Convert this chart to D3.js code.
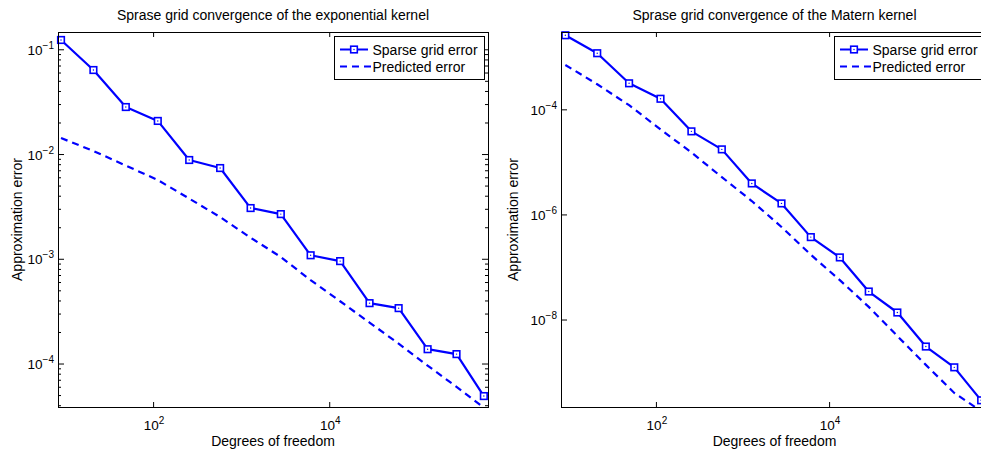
<!DOCTYPE html>
<html>
<head>
<meta charset="utf-8">
<script src="https://cdn.jsdelivr.net/npm/d3@7"></script>
<style>
  body { margin: 0; background: #fff; }
  text { font-family: "Liberation Sans", Arial, Helvetica, sans-serif; fill: #000; }
</style>
</head>
<body>
<div id="chart-area"></div>
<script>
// degrees of freedom of each sparse grid level
const dof = [9, 21, 49, 113, 257, 577, 1280, 2820, 6150, 13300, 28700, 61400, 131000, 279000, 570000]

// exponential kernel
const sparseExp = [0.1227, 0.0634, 0.0281, 0.0207, 0.00877, 0.00735, 0.00305, 0.00267, 0.00108, 9.5e-4, 3.77e-4, 3.38e-4, 1.37e-4, 1.23e-4, 4.89e-5]
const predictedExp = [0.01422, 0.01069, 0.00776, 0.00565, 0.00376, 0.00250, 0.00159, 0.00104, 6.25e-4, 3.93e-4, 2.46e-4, 1.55e-4, 9.55e-5, 5.99e-5, 3.78e-5]

// Matern kernel
const sparseMatern = [2.57e-3, 1.17e-3, 3.13e-4, 1.59e-4, 3.81e-5, 1.73e-5, 3.89e-6, 1.62e-6, 3.70e-7, 1.52e-7, 3.41e-8, 1.36e-8, 3.06e-9, 1.23e-9, 2.9e-10]
const predictedMatern = [7.0e-4, 3.0e-4, 1.20e-4, 4.16e-5, 1.51e-5, 5.13e-6, 1.80e-6, 5.78e-7, 1.71e-7, 5.61e-8, 1.74e-8, 4.85e-9, 1.37e-9, 4.00e-10, 1.81e-10]

const xTicks = [1e2, 1e4]
const yTicksExp = [1e-1, 1e-2, 1e-3, 1e-4]
const yTicksMatern = [1e-4, 1e-6, 1e-8]
const legendLabels = ["Sparse grid error", "Predicted error"]
const titles = ["Sprase grid convergence of the exponential kernel", "Sprase grid convergence of the Matern kernel"]

const WIDTH = 981, HEIGHT = 454
const BLUE = "#0000ff"

const svg = d3.select("#chart-area").append("svg")
  .attr("width", WIDTH)
  .attr("height", HEIGHT)

const panels = [
  { title: titles[0], sparse: sparseExp, predicted: predictedExp, yTicks: yTicksExp, minor: true,
    left: 58, right: 488, top: 32, bottom: 407, xLog: [0.92, 5.803], yLog: [-4.415, -0.835],
    yLabelX: 22, legendX: 334 },
  { title: titles[1], sparse: sparseMatern, predicted: predictedMatern, yTicks: yTicksMatern, minor: false,
    left: 561, right: 988, top: 32, bottom: 407, xLog: [0.904, 5.835], yLog: [-9.665, -2.528],
    yLabelX: 518, legendX: 834 }
]

function supLabel(sel, v) {
  const e = Math.round(Math.log10(v))
  sel.append("tspan").text("10")
  sel.append("tspan")
    .attr("font-size", 10)
    .attr("dy", -6)
    .text(e < 0 ? "\u2212" + (-e) : e)
}

function marker(sel, cx, cy) {
  sel.append("rect")
    .attr("x", cx - 3.3).attr("y", cy - 3.3)
    .attr("width", 6.6).attr("height", 6.6)
    .attr("fill", "#fff")
    .attr("stroke", BLUE)
    .attr("stroke-width", 1.6)
  sel.append("circle")
    .attr("cx", cx).attr("cy", cy).attr("r", 0.7)
    .attr("fill", BLUE)
}

panels.forEach((p, i) => {
  const x = d3.scaleLog()
    .domain([10 ** p.xLog[0], 10 ** p.xLog[1]])
    .range([p.left, p.right])
  const y = d3.scaleLog()
    .domain([10 ** p.yLog[0], 10 ** p.yLog[1]])
    .range([p.bottom, p.top])

  const g = svg.append("g")

  svg.append("clipPath").attr("id", "clip" + i)
    .append("rect")
    .attr("x", p.left).attr("y", p.top)
    .attr("width", p.right - p.left).attr("height", p.bottom - p.top)

  // ticks (inside, all four sides)
  const axes = []
  axes.push(g.append("g").attr("transform", `translate(0,${p.bottom})`)
    .call(d3.axisBottom(x).tickValues(xTicks).tickSize(-5).tickFormat("")))
  axes.push(g.append("g").attr("transform", `translate(0,${p.top})`)
    .call(d3.axisTop(x).tickValues(xTicks).tickSize(-5).tickFormat("")))
  axes.push(g.append("g").attr("transform", `translate(${p.left},0)`)
    .call(d3.axisLeft(y).tickValues(p.yTicks).tickSize(-6).tickFormat("")))
  axes.push(g.append("g").attr("transform", `translate(${p.right},0)`)
    .call(d3.axisRight(y).tickValues(p.yTicks).tickSize(-6).tickFormat("")))

  if (p.minor) {
    const minorTicks = y.ticks().filter(v => Math.abs(Math.log10(v) - Math.round(Math.log10(v))) > 1e-6)
    axes.push(g.append("g").attr("transform", `translate(${p.left},0)`)
      .call(d3.axisLeft(y).tickValues(minorTicks).tickSize(-3).tickFormat("")))
    axes.push(g.append("g").attr("transform", `translate(${p.right},0)`)
      .call(d3.axisRight(y).tickValues(minorTicks).tickSize(-3).tickFormat("")))
  }
  axes.forEach(a => {
    a.select(".domain").remove()
    a.selectAll("line").attr("stroke", "#000")
  })

  // tick labels
  g.selectAll(".xlab").data(xTicks).enter().append("text")
    .attr("class", "xlab")
    .attr("x", d => x(d) + 1)
    .attr("y", p.bottom + 22.5)
    .attr("text-anchor", "middle")
    .attr("font-size", 13.5)
    .each(function (d) { supLabel(d3.select(this), d) })

  g.selectAll(".ylab").data(p.yTicks).enter().append("text")
    .attr("class", "ylab")
    .attr("x", p.left - 4)
    .attr("y", d => y(d) + 5.5)
    .attr("text-anchor", "end")
    .attr("font-size", 13.5)
    .each(function (d) { supLabel(d3.select(this), d) })

  // data lines
  const line = d3.line()
    .x(d => x(d[0]))
    .y(d => y(d[1]))

  const plot = g.append("g").attr("clip-path", `url(#clip${i})`)

  plot.append("path")
    .datum(dof.map((d, j) => [d, p.predicted[j]]))
    .attr("d", line)
    .attr("fill", "none")
    .attr("stroke", BLUE)
    .attr("stroke-width", 2.2)
    .attr("stroke-dasharray", "7,5")

  plot.append("path")
    .datum(dof.map((d, j) => [d, p.sparse[j]]))
    .attr("d", line)
    .attr("fill", "none")
    .attr("stroke", BLUE)
    .attr("stroke-width", 2.2)
    .attr("stroke-linejoin", "round")

  const marks = g.append("g")
  dof.forEach((d, j) => marker(marks, x(d), y(p.sparse[j])))

  // box
  g.append("rect")
    .attr("x", p.left + 0.5).attr("y", p.top + 0.5)
    .attr("width", p.right - p.left).attr("height", p.bottom - p.top)
    .attr("fill", "none")
    .attr("stroke", "#000")
    .attr("stroke-width", 1)

  // title & axis labels
  g.append("text")
    .attr("x", (p.left + p.right) / 2)
    .attr("y", 19.5)
    .attr("text-anchor", "middle")
    .attr("font-size", 14)
    .text(p.title)

  g.append("text")
    .attr("x", (p.left + p.right) / 2)
    .attr("y", 446)
    .attr("text-anchor", "middle")
    .attr("font-size", 14)
    .text("Degrees of freedom")

  g.append("text")
    .attr("transform", `translate(${p.yLabelX},${(p.top + p.bottom) / 2}) rotate(-90)`)
    .attr("text-anchor", "middle")
    .attr("font-size", 14)
    .text("Approximation error")

  // legend
  const lg = g.append("g").attr("transform", `translate(${p.legendX},0)`)
  lg.append("rect")
    .attr("x", 0.5).attr("y", 36.5)
    .attr("width", 150).attr("height", 43)
    .attr("fill", "#fff")
    .attr("stroke", "#000")
  const rows = [49.5, 66.5]
  lg.append("line")
    .attr("x1", 6).attr("x2", 34).attr("y1", rows[0]).attr("y2", rows[0])
    .attr("stroke", BLUE).attr("stroke-width", 2)
  marker(lg, 20, rows[0])
  lg.append("line")
    .attr("x1", 6).attr("x2", 38).attr("y1", rows[1]).attr("y2", rows[1])
    .attr("stroke", BLUE).attr("stroke-width", 2)
    .attr("stroke-dasharray", "7,5")
  legendLabels.forEach((t, j) => {
    lg.append("text")
      .attr("x", 38.5)
      .attr("y", rows[j] + 5)
      .attr("font-size", 14)
      .text(t)
  })
})
</script>
</body>
</html>
